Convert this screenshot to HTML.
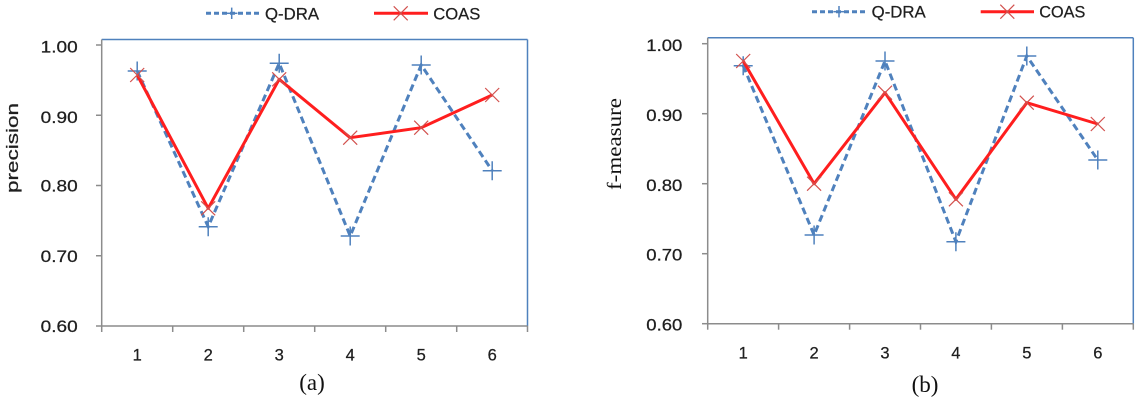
<!DOCTYPE html>
<html>
<head>
<meta charset="utf-8">
<style>
html,body{margin:0;padding:0;background:#fff;}
svg{display:block;}
.t{font-family:"Liberation Sans",sans-serif;fill:#1f1f1f;stroke:#1f1f1f;stroke-width:0.25;}
.s{font-family:"Liberation Serif",serif;fill:#111;}
</style>
</head>
<body>
<svg width="1146" height="402" viewBox="0 0 1146 402" xmlns="http://www.w3.org/2000/svg">
<rect width="1146" height="402" fill="#fff"/>

<!-- ===== Chart (a) ===== -->
<!-- legend -->
<line x1="206" y1="13.3" x2="260" y2="13.3" stroke="#4F81BD" stroke-width="3" stroke-dasharray="5,3"/>
<line x1="226" y1="13.3" x2="237.4" y2="13.3" stroke="#4F81BD" stroke-width="1.5"/>
<line x1="231.7" y1="7.6" x2="231.7" y2="19" stroke="#4F81BD" stroke-width="1.5"/>
<text class="t" font-family="Liberation Sans, sans-serif" x="265" y="19.3" font-size="16.5" textLength="54" lengthAdjust="spacingAndGlyphs">Q-DRA</text>
<line x1="374" y1="13.3" x2="428" y2="13.3" stroke="#FF1E1E" stroke-width="3"/>
<path d="M393.7 6.3 L407.7 20.3 M393.7 20.3 L407.7 6.3" stroke="#D2504D" stroke-width="1.2" fill="none"/>
<text class="t" font-family="Liberation Sans, sans-serif" x="433.3" y="19.3" font-size="16.5" textLength="47" lengthAdjust="spacingAndGlyphs">COAS</text>

<!-- plot border -->
<line x1="101.7" y1="39.5" x2="527.5" y2="39.5" stroke="#4F81BD" stroke-width="1.5"/>
<line x1="527.5" y1="39.5" x2="527.5" y2="326" stroke="#4F81BD" stroke-width="1.5"/>
<!-- axes -->
<line x1="101.7" y1="39.5" x2="101.7" y2="326" stroke="#8C8C8C" stroke-width="1.5"/>
<line x1="101.7" y1="326" x2="527.5" y2="326" stroke="#8C8C8C" stroke-width="1.5"/>
<g stroke="#8C8C8C" stroke-width="1.5">
<line x1="96" y1="45" x2="101.7" y2="45"/>
<line x1="96" y1="115.25" x2="101.7" y2="115.25"/>
<line x1="96" y1="185.5" x2="101.7" y2="185.5"/>
<line x1="96" y1="255.75" x2="101.7" y2="255.75"/>
<line x1="96" y1="326" x2="101.7" y2="326"/>
<line x1="101.7" y1="326" x2="101.7" y2="332"/>
<line x1="172.7" y1="326" x2="172.7" y2="332"/>
<line x1="243.7" y1="326" x2="243.7" y2="332"/>
<line x1="314.7" y1="326" x2="314.7" y2="332"/>
<line x1="385.7" y1="326" x2="385.7" y2="332"/>
<line x1="456.7" y1="326" x2="456.7" y2="332"/>
<line x1="527.5" y1="326" x2="527.5" y2="332"/>
</g>
<!-- y labels -->
<g class="t" font-size="16.5" text-anchor="end">
<text x="77.7" y="52.6" textLength="37" lengthAdjust="spacingAndGlyphs">1.00</text>
<text x="77.7" y="123.2" textLength="37" lengthAdjust="spacingAndGlyphs">0.90</text>
<text x="77.7" y="191.6" textLength="37" lengthAdjust="spacingAndGlyphs">0.80</text>
<text x="77.7" y="261.9" textLength="37" lengthAdjust="spacingAndGlyphs">0.70</text>
<text x="77.7" y="332.2" textLength="37" lengthAdjust="spacingAndGlyphs">0.60</text>
</g>
<!-- x labels -->
<g class="t" font-size="16.5" text-anchor="middle">
<text x="137.2" y="360.3">1</text>
<text x="208.2" y="360.3">2</text>
<text x="279.2" y="360.3">3</text>
<text x="350.2" y="360.3">4</text>
<text x="421.2" y="360.3">5</text>
<text x="492.2" y="360.3">6</text>
</g>
<text class="t" font-family="Liberation Sans, sans-serif" font-size="16.5" text-anchor="middle" transform="translate(18,148) rotate(-90)" textLength="90" lengthAdjust="spacingAndGlyphs">precision</text>
<text class="s" font-family="Liberation Serif, serif" x="312" y="390" font-size="23" text-anchor="middle">(a)</text>

<!-- series a -->
<polyline points="137.2,71 208.2,226.7 279.2,63.3 350.2,236 421.2,65 492.2,170.7" fill="none" stroke="#4F81BD" stroke-width="3" stroke-dasharray="7,4"/>
<g stroke="#4F81BD" stroke-width="1.5">
<path d="M127.7 71 H146.7 M137.2 61.5 V80.5"/>
<path d="M198.7 226.7 H217.7 M208.2 217.2 V236.2"/>
<path d="M269.7 63.3 H288.7 M279.2 53.8 V72.8"/>
<path d="M340.7 236 H359.7 M350.2 226.5 V245.5"/>
<path d="M411.7 65 H430.7 M421.2 55.5 V74.5"/>
<path d="M482.7 170.7 H501.7 M492.2 161.2 V180.2"/>
</g>
<polyline points="137.2,75 208.2,208.3 279.2,79.3 350.2,137.7 421.2,127.7 492.2,95" fill="none" stroke="#FF1E1E" stroke-width="3" stroke-linejoin="round"/>
<g stroke="#D2504D" stroke-width="1.2" fill="none">
<path d="M130.2 68 L144.2 82 M130.2 82 L144.2 68"/>
<path d="M201.2 201.3 L215.2 215.3 M201.2 215.3 L215.2 201.3"/>
<path d="M272.2 72.3 L286.2 86.3 M272.2 86.3 L286.2 72.3"/>
<path d="M343.2 130.7 L357.2 144.7 M343.2 144.7 L357.2 130.7"/>
<path d="M414.2 120.7 L428.2 134.7 M414.2 134.7 L428.2 120.7"/>
<path d="M485.2 88 L499.2 102 M485.2 102 L499.2 88"/>
</g>

<!-- ===== Chart (b) ===== -->
<!-- legend -->
<line x1="812" y1="11.7" x2="868" y2="11.7" stroke="#4F81BD" stroke-width="3" stroke-dasharray="5,3"/>
<line x1="833.3" y1="11.7" x2="844.7" y2="11.7" stroke="#4F81BD" stroke-width="1.5"/>
<line x1="839" y1="6" x2="839" y2="17.4" stroke="#4F81BD" stroke-width="1.5"/>
<text class="t" font-family="Liberation Sans, sans-serif" x="871.7" y="17.7" font-size="16.5" textLength="54" lengthAdjust="spacingAndGlyphs">Q-DRA</text>
<line x1="980.7" y1="11.7" x2="1034" y2="11.7" stroke="#FF1E1E" stroke-width="3"/>
<path d="M1000.3 4.7 L1014.3 18.7 M1000.3 18.7 L1014.3 4.7" stroke="#D2504D" stroke-width="1.2" fill="none"/>
<text class="t" font-family="Liberation Sans, sans-serif" x="1039.3" y="17.7" font-size="16.5" textLength="46" lengthAdjust="spacingAndGlyphs">COAS</text>

<!-- plot border -->
<line x1="707.7" y1="37.7" x2="1133.3" y2="37.7" stroke="#4F81BD" stroke-width="1.5"/>
<line x1="1133.3" y1="37.7" x2="1133.3" y2="323.7" stroke="#4F81BD" stroke-width="1.5"/>
<line x1="707.7" y1="37.7" x2="707.7" y2="323.7" stroke="#8C8C8C" stroke-width="1.5"/>
<line x1="707.7" y1="323.7" x2="1133.3" y2="323.7" stroke="#8C8C8C" stroke-width="1.5"/>
<g stroke="#8C8C8C" stroke-width="1.5">
<line x1="702" y1="43.7" x2="707.7" y2="43.7"/>
<line x1="702" y1="113.7" x2="707.7" y2="113.7"/>
<line x1="702" y1="183.7" x2="707.7" y2="183.7"/>
<line x1="702" y1="253.7" x2="707.7" y2="253.7"/>
<line x1="702" y1="323.7" x2="707.7" y2="323.7"/>
<line x1="707.7" y1="323.7" x2="707.7" y2="329.7"/>
<line x1="778.6" y1="323.7" x2="778.6" y2="329.7"/>
<line x1="849.6" y1="323.7" x2="849.6" y2="329.7"/>
<line x1="920.5" y1="323.7" x2="920.5" y2="329.7"/>
<line x1="991.4" y1="323.7" x2="991.4" y2="329.7"/>
<line x1="1062.4" y1="323.7" x2="1062.4" y2="329.7"/>
<line x1="1133.3" y1="323.7" x2="1133.3" y2="329.7"/>
</g>
<g class="t" font-size="16.5" text-anchor="end">
<text x="682.3" y="50.9" textLength="36" lengthAdjust="spacingAndGlyphs">1.00</text>
<text x="682.3" y="120.9" textLength="36" lengthAdjust="spacingAndGlyphs">0.90</text>
<text x="682.3" y="190.9" textLength="36" lengthAdjust="spacingAndGlyphs">0.80</text>
<text x="682.3" y="260.4" textLength="36" lengthAdjust="spacingAndGlyphs">0.70</text>
<text x="682.3" y="330.4" textLength="36" lengthAdjust="spacingAndGlyphs">0.60</text>
</g>
<g class="t" font-size="16.5" text-anchor="middle">
<text x="743.2" y="358.3">1</text>
<text x="814.1" y="358.3">2</text>
<text x="885.0" y="358.3">3</text>
<text x="955.9" y="358.3">4</text>
<text x="1026.8" y="358.3">5</text>
<text x="1097.8" y="358.3">6</text>
</g>
<text class="s" font-family="Liberation Serif, serif" font-size="20" text-anchor="middle" transform="translate(621,144) rotate(-90)" textLength="92" lengthAdjust="spacingAndGlyphs">f-measure</text>
<text class="s" font-family="Liberation Serif, serif" x="925" y="392" font-size="23" text-anchor="middle">(b)</text>

<!-- series b -->
<polyline points="743.2,65.7 814.1,235 885,61 955.9,241.7 1026.8,56 1097.8,160" fill="none" stroke="#4F81BD" stroke-width="3" stroke-dasharray="7,4"/>
<g stroke="#4F81BD" stroke-width="1.5">
<path d="M733.7 65.7 H752.7 M743.2 56.2 V75.2"/>
<path d="M804.6 235 H823.6 M814.1 225.5 V244.5"/>
<path d="M875.5 61 H894.5 M885 51.5 V70.5"/>
<path d="M946.4 241.7 H965.4 M955.9 232.2 V251.2"/>
<path d="M1017.3 56 H1036.3 M1026.8 46.5 V65.5"/>
<path d="M1088.3 160 H1107.3 M1097.8 150.5 V169.5"/>
</g>
<polyline points="743.2,61 814.1,183.7 885,92.7 955.9,199.3 1026.8,102.7 1097.8,124" fill="none" stroke="#FF1E1E" stroke-width="3" stroke-linejoin="round"/>
<g stroke="#D2504D" stroke-width="1.2" fill="none">
<path d="M736.2 54 L750.2 68 M736.2 68 L750.2 54"/>
<path d="M807.1 176.7 L821.1 190.7 M807.1 190.7 L821.1 176.7"/>
<path d="M878 85.7 L892 99.7 M878 99.7 L892 85.7"/>
<path d="M948.9 192.3 L962.9 206.3 M948.9 206.3 L962.9 192.3"/>
<path d="M1019.8 95.7 L1033.8 109.7 M1019.8 109.7 L1033.8 95.7"/>
<path d="M1090.8 117 L1104.8 131 M1090.8 131 L1104.8 117"/>
</g>
</svg>
</body>
</html>
